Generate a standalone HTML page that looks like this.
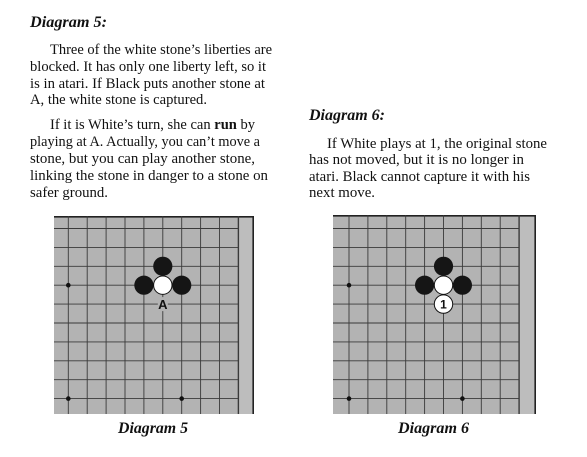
<!DOCTYPE html>
<html><head><meta charset="utf-8"><style>
html,body{margin:0;padding:0;background:#fff;}
svg{display:block;font-family:"Liberation Serif",serif;}
</style></head><body>
<svg width="587" height="457" viewBox="0 0 587 457">
<g fill="#111" font-size="15">
<text x="30" y="27" font-weight="bold" font-style="italic" font-size="16" textLength="77" lengthAdjust="spacingAndGlyphs">Diagram 5:</text>
<text x="50" y="54" textLength="222" lengthAdjust="spacingAndGlyphs">Three of the white stone’s liberties are</text>
<text x="30" y="71" textLength="236" lengthAdjust="spacingAndGlyphs">blocked. It has only one liberty left, so it</text>
<text x="30" y="88" textLength="235" lengthAdjust="spacingAndGlyphs">is in atari. If Black puts another stone at</text>
<text x="30" y="104" textLength="177" lengthAdjust="spacingAndGlyphs">A, the white stone is captured.</text>
<text x="50" y="129" textLength="205" lengthAdjust="spacingAndGlyphs">If it is White’s turn, she can <tspan font-weight="bold">run</tspan> by</text>
<text x="30" y="146" textLength="230" lengthAdjust="spacingAndGlyphs">playing at A. Actually, you can’t move a</text>
<text x="30" y="163" textLength="225" lengthAdjust="spacingAndGlyphs">stone, but you can play another stone,</text>
<text x="30" y="180" textLength="238" lengthAdjust="spacingAndGlyphs">linking the stone in danger to a stone on</text>
<text x="30" y="197" textLength="78" lengthAdjust="spacingAndGlyphs">safer ground.</text>

<text x="309" y="120" font-weight="bold" font-style="italic" font-size="16" textLength="76" lengthAdjust="spacingAndGlyphs">Diagram 6:</text>
<text x="327" y="148" textLength="220" lengthAdjust="spacingAndGlyphs">If White plays at 1, the original stone</text>
<text x="309" y="164" textLength="215" lengthAdjust="spacingAndGlyphs">has not moved, but it is no longer in</text>
<text x="309" y="181" textLength="221" lengthAdjust="spacingAndGlyphs">atari. Black cannot capture it with his</text>
<text x="309" y="197" textLength="66" lengthAdjust="spacingAndGlyphs">next move.</text>

<text x="118" y="433" font-weight="bold" font-style="italic" font-size="16" textLength="70" lengthAdjust="spacingAndGlyphs">Diagram 5</text>
<text x="398" y="433" font-weight="bold" font-style="italic" font-size="16" textLength="71" lengthAdjust="spacingAndGlyphs">Diagram 6</text>
</g>
<g id="b1"></g>
<g id="b2"></g>
</svg>
<script>
// board data: grid indices (col,row) with step ~18.9
const starPoints = [[0,3],[6,3],[0,9],[6,9]];
const blackStones = [[5,2],[4,3],[6,3]];
const whiteStones = [[5,3]];
const board1Markers = [{col:5,row:4,label:'A'}];
const board2Moves = [{col:5,row:4,label:'1'}];
const NS='http://www.w3.org/2000/svg';
function mk(tag,attrs,parent){const e=document.createElementNS(NS,tag);for(const k in attrs)e.setAttribute(k,attrs[k]);parent.appendChild(e);return e;}
function drawBoard(g,left,x0,right,top,bottom,isSecond){
  const step=18.9, y0=228.5;
  const sx=c=>x0+c*step, sy=r=>y0+(r-1)*step+ (r>=1?0:0);
  const yy=r=>y0+r*step-step*0+0;
  const Y=r=>228.5+ (r)*step - 0; // row 0 = 228.5
  const bg=mk('rect',{x:left,y:top,width:right-left,height:bottom-top,fill:'#b3b3b3'},g);
  
  
  const lastX=sx(9);
  mk('rect',{x:lastX,y:top,width:right-lastX,height:bottom-top,fill:'#bdbdbd'},g);
  mk('line',{x1:left,y1:top+0.8,x2:right,y2:top+0.8,stroke:'#222','stroke-width':1.6},g);
  mk('line',{x1:right-0.8,y1:top,x2:right-0.8,y2:bottom,stroke:'#222','stroke-width':1.6},g);
  for(let c=0;c<10;c++){
    const l=mk('line',{x1:sx(c),y1:top,x2:sx(c),y2:bottom,stroke:'#3a3a3a','stroke-width':c==9?1.4:0.9},g);
    
    
  }
  for(let r=0;r<10;r++){
    const l=mk('line',{x1:left,y1:Y(r),x2:lastX,y2:Y(r),stroke:'#3a3a3a','stroke-width':0.9},g);
    
    
  }
  starPoints.forEach(p=>{const s=mk('circle',{cx:sx(p[0]),cy:Y(p[1]),r:2.3,fill:'#111'},g);
    
    });
  blackStones.forEach(p=>{const s=mk('circle',{cx:sx(p[0]),cy:Y(p[1]),r:9.6,fill:'#151515'},g);
    
    });
  whiteStones.forEach(p=>{const s=mk('circle',{cx:sx(p[0]),cy:Y(p[1]),r:9.2,fill:'#fff',stroke:'#111','stroke-width':1},g);
    
    });
  if(!isSecond){
    board1Markers.forEach(m=>{
      mk('rect',{x:sx(m.col)-5,y:Y(m.row)-7,width:10,height:14,fill:'#b3b3b3'},g);
      const t=mk('text',{x:sx(m.col),y:Y(m.row)+5,'text-anchor':'middle','font-family':'"Liberation Sans",sans-serif','font-weight':'bold','font-size':13,fill:'#111'},g);
      t.textContent=m.label;
      
      
    });
  } else {
    board2Moves.forEach(m=>{
      const s=mk('circle',{cx:sx(m.col),cy:Y(m.row),r:9.2,fill:'#fff',stroke:'#111','stroke-width':1},g);
      
      
      const t=mk('text',{x:sx(m.col),y:Y(m.row)+4.5,'text-anchor':'middle','font-family':'"Liberation Sans",sans-serif','font-weight':'bold','font-size':12,fill:'#111'},g);
      t.textContent=m.label;
      
      
    });
  }
}
drawBoard(document.getElementById('b1'),54,68.3,254,216,414,false);
drawBoard(document.getElementById('b2'),333,349,536,215,414,true);
</script>
</body></html>
